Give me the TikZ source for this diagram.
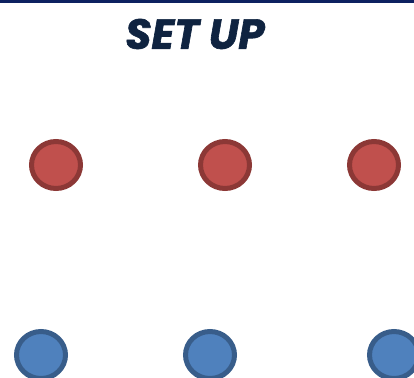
\documentclass[tikz,border=0pt]{standalone}
\usepackage{fontspec}
\setmainfont{Poppins}[BoldItalicFeatures={FakeBold=1.5}]
\usetikzlibrary{shapes.geometric}
\definecolor{navy}{HTML}{0D2160}
\definecolor{titlec}{HTML}{0F2340}
\definecolor{redf}{HTML}{C0504D}
\definecolor{redb}{HTML}{8C3836}
\definecolor{bluef}{HTML}{4F81BD}
\definecolor{blueb}{HTML}{385D8A}
\begin{document}
\begin{tikzpicture}[x=1pt,y=-1pt,
  reddot/.style={ellipse,draw=redb,fill=redf,line width=5pt,minimum width=49pt,minimum height=47pt,inner sep=0pt},
  bluedot/.style={ellipse,draw=blueb,fill=bluef,line width=5pt,minimum width=49pt,minimum height=47pt,inner sep=0pt}]
\useasboundingbox (0,0) rectangle (414,377);
\clip (0,0) rectangle (414,377);
\fill[navy] (0,0) rectangle (414,3.5);
\node[text=titlec,font=\fontsize{42}{42}\selectfont\bfseries\itshape] (title) at (195,34) {SET UP};
\node[reddot] (r1) at (56,165) {};
\node[reddot] (r2) at (225,165) {};
\node[reddot] (r3) at (374,165) {};
\node[bluedot] (b1) at (41,355) {};
\node[bluedot] (b2) at (210,355) {};
\node[bluedot] (b3) at (394,355) {};
\end{tikzpicture}
\end{document}
